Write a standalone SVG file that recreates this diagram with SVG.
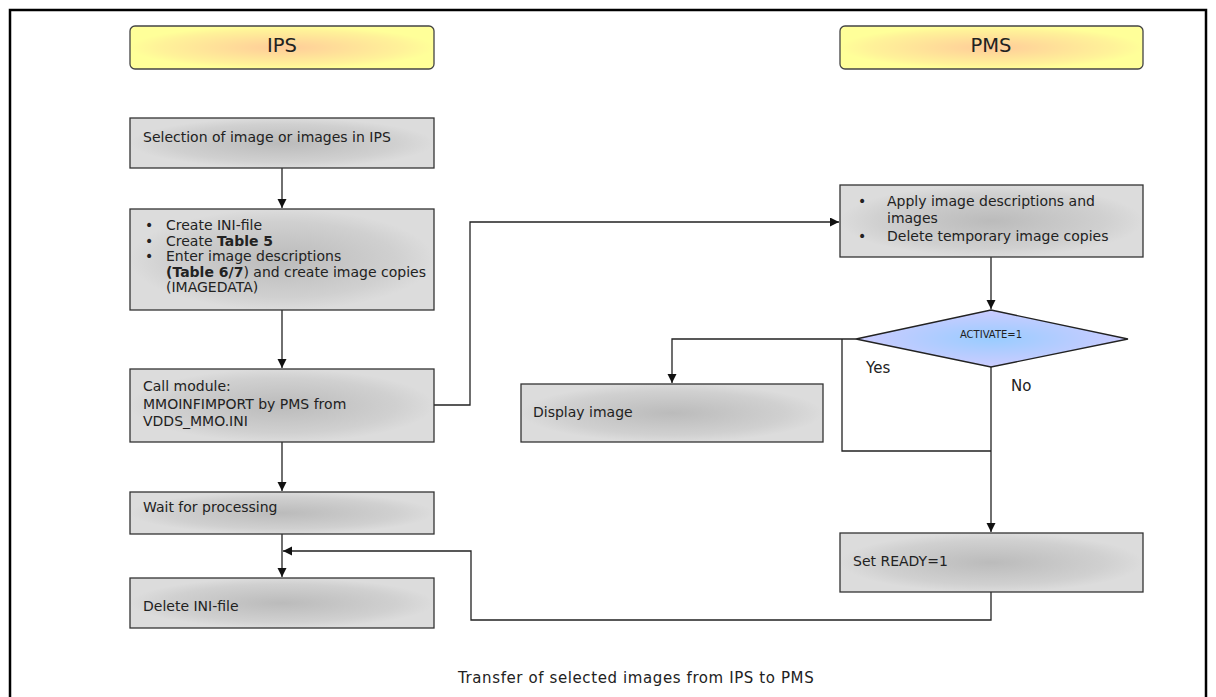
<svg xmlns="http://www.w3.org/2000/svg" width="1216" height="697" viewBox="0 0 1216 697">
<defs>
<radialGradient id="gBox" cx="0.5" cy="0.5" r="0.5">
<stop offset="0" stop-color="#bbbbbb"/>
<stop offset="0.75" stop-color="#d0d0d0"/>
<stop offset="1" stop-color="#dcdcdc"/>
</radialGradient>
<radialGradient id="gHead" cx="0.5" cy="0.5" r="0.5">
<stop offset="0" stop-color="#ffcc99"/>
<stop offset="0.8" stop-color="#fff299"/>
<stop offset="1" stop-color="#ffff99"/>
</radialGradient>
<radialGradient id="gDia" cx="0.5" cy="0.5" r="0.5">
<stop offset="0" stop-color="#99ccff"/>
<stop offset="1" stop-color="#ccccff"/>
</radialGradient>
<marker id="arr" markerWidth="12" markerHeight="12" refX="9" refY="4.5" orient="auto" markerUnits="userSpaceOnUse">
<path d="M0,0 L9,4.5 L0,9 Z" fill="#111"/>
</marker>
</defs>
<style>
text{font-family:"DejaVu Sans","Liberation Sans",sans-serif;fill:#222;}
.t{font-size:14px;}
.b{font-weight:bold;}
.h{font-size:19.5px;text-anchor:middle;}
.box{fill:url(#gBox);stroke:#333;stroke-width:1.3;}
.head{fill:url(#gHead);stroke:#444;stroke-width:1.3;}
.c{fill:none;stroke:#222;stroke-width:1.3;}
.a{marker-end:url(#arr);}
</style>
<rect x="0" y="0" width="1216" height="697" fill="#fff"/>
<rect x="10" y="10" width="1196" height="720" fill="none" stroke="#000" stroke-width="2.5"/>

<g id="connectors">
<path class="c a" d="M282,168 V208"/>
<path class="c a" d="M282,310 V368"/>
<path class="c a" d="M282,442 V491"/>
<path class="c a" d="M282,534 V577"/>
<path class="c a" d="M434,405 H470 V222 H839"/>
<path class="c a" d="M991,257 V309"/>
<path class="c a" d="M856,339 H672 V383"/>
<path class="c" d="M842,339 V451 H991"/>
<path class="c a" d="M991,367 V532"/>
<path class="c a" d="M991,592 V620 H471 V551 H283"/>
</g>

<g id="header-ips">
<rect class="head" x="130" y="26" width="304" height="43" rx="5"/>
<text class="h" x="282" y="52">IPS</text>
</g>
<g id="header-pms">
<rect class="head" x="840" y="26" width="303" height="43" rx="5"/>
<text class="h" x="991" y="52">PMS</text>
</g>

<g id="n-selection">
<rect class="box" x="130" y="118" width="304" height="50"/>
<text class="t" x="143" y="142">Selection of image or images in IPS</text>
</g>

<g id="n-create">
<rect class="box" x="130" y="209" width="304" height="101"/>
<text class="t" x="145" y="230">•</text>
<text class="t" x="166" y="230">Create INI-file</text>
<text class="t" x="145" y="245.5">•</text>
<text class="t" x="166" y="245.5">Create <tspan class="b">Table 5</tspan></text>
<text class="t" x="145" y="261">•</text>
<text class="t" x="166" y="261">Enter image descriptions</text>
<text class="t" x="166" y="276.5"><tspan class="b">(Table 6/7</tspan>) and create image copies</text>
<text class="t" x="166" y="292">(IMAGEDATA)</text>
</g>

<g id="n-call">
<rect class="box" x="130" y="369" width="304" height="73"/>
<text class="t" x="143" y="391">Call module:</text>
<text class="t" x="143" y="408.5">MMOINFIMPORT by PMS from</text>
<text class="t" x="143" y="426">VDDS_MMO.INI</text>
</g>

<g id="n-wait">
<rect class="box" x="130" y="492" width="304" height="42"/>
<text class="t" x="143" y="512">Wait for processing</text>
</g>

<g id="n-delete">
<rect class="box" x="130" y="578" width="304" height="50"/>
<text class="t" x="143" y="611">Delete INI-file</text>
</g>

<g id="n-apply">
<rect class="box" x="840" y="185" width="303" height="72"/>
<text class="t" x="858" y="206">•</text>
<text class="t" x="887" y="206">Apply image descriptions and</text>
<text class="t" x="887" y="223">images</text>
<text class="t" x="858" y="241">•</text>
<text class="t" x="887" y="241">Delete temporary image copies</text>
</g>

<g id="n-activate">
<polygon points="991,310 1128,339 991,367 856,339" fill="url(#gDia)" stroke="#222" stroke-width="1.3"/>
<text x="991" y="338" style="font-size:10px;text-anchor:middle;">ACTIVATE=1</text>
</g>

<g id="labels">
<text x="866" y="373" style="font-size:15px;">Yes</text>
<text x="1011" y="391" style="font-size:15px;">No</text>
</g>

<g id="n-display">
<rect class="box" x="521" y="384" width="302" height="58"/>
<text class="t" x="533" y="417">Display image</text>
</g>

<g id="n-ready">
<rect class="box" x="840" y="533" width="303" height="59"/>
<text class="t" x="853" y="566">Set READY=1</text>
</g>

<text x="458" y="683" style="font-size:15px;letter-spacing:0.6px;">Transfer of selected images from IPS to PMS</text>
</svg>
